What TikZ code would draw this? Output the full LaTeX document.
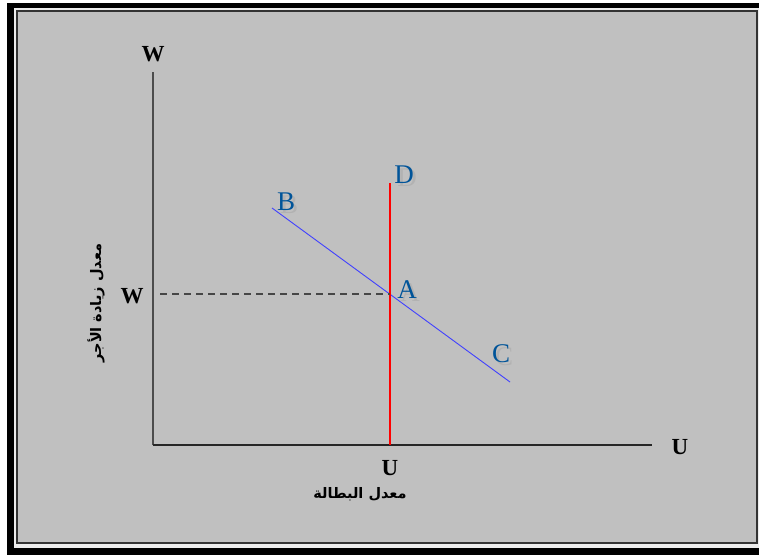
\documentclass[tikz,border=0pt]{standalone}
\usepackage{fontspec}
\setmainfont{Liberation Serif}
\newfontfamily\arabicfont[Script=Arabic]{DejaVu Sans}
\TeXXeTstate=1
\usetikzlibrary{positioning,calc}
\newcommand{\shadowed}[1]{\makebox[0pt][l]{\hspace{3pt}\raisebox{-3pt}{\color{gray!60!white}#1}}#1}

\begin{document}
\begin{tikzpicture}[
  x=1pt,y=-1pt,
  axlab/.style={font=\fontsize{23}{23}\selectfont\bfseries,inner sep=0pt},
  ptlab/.style={font=\fontsize{27}{27}\selectfont,text=blue!45!cyan!60!black,inner sep=0pt},
  arab/.style={font=\arabicfont\bfseries\fontsize{14.5}{14.5}\selectfont,inner sep=0pt}
]
\useasboundingbox (0,0) rectangle (759,556);
% frame
\fill[black] (7,3) rectangle (762,555);
\fill[white!85!gray] (14,8) rectangle (760,548);
\draw[gray!40!black,line width=2pt,fill={rgb,255:red,192;green,192;blue,192}] (17,11) rectangle (757,543);

% axes
\coordinate (O) at (153,445);
\coordinate (wtop) at (153,72);
\coordinate (uend) at (652,445);
\draw[gray!60!black,line width=1.8pt] (O) -- (wtop);
\draw[black!85,line width=1.5pt] (O) -- (uend);
\node[axlab] (wlab) at (153,54) {W};
\node[axlab] (ulab) at (680,447) {U};

% curves
\coordinate (B) at (272,208);
\coordinate (C) at (510,382);
\coordinate (D) at (390,183);
\coordinate (Dbot) at (390,445);
\coordinate (A) at (390,294);
\coordinate (wdash) at (160,294);
\draw[blue!75!white,line width=0.9pt] (B) -- (C);
\draw[red,line width=2.6pt] (Dbot) -- (D);
\draw[gray!55!black,line width=1.6pt,dash pattern=on 7pt off 5pt] (wdash) -- (A);

% point labels
\foreach \p/\x/\y in {B/286/203,D/404/176,A/407/291,C/501/355}{
  \node[ptlab] (lab\p) at (\x,\y) {\shadowed{\p}};
}

% axis values
\node[axlab] (wval) at (132,296) {W};
\node[axlab] (uval) at (390,468) {U};
\node[arab] (unemp) at (360,494) {\beginR معدل البطالة\endR};
\node[arab,rotate=90] (wage) at (96,303) {\beginR معدل زيادة الأجر\endR};
\end{tikzpicture}
\end{document}
